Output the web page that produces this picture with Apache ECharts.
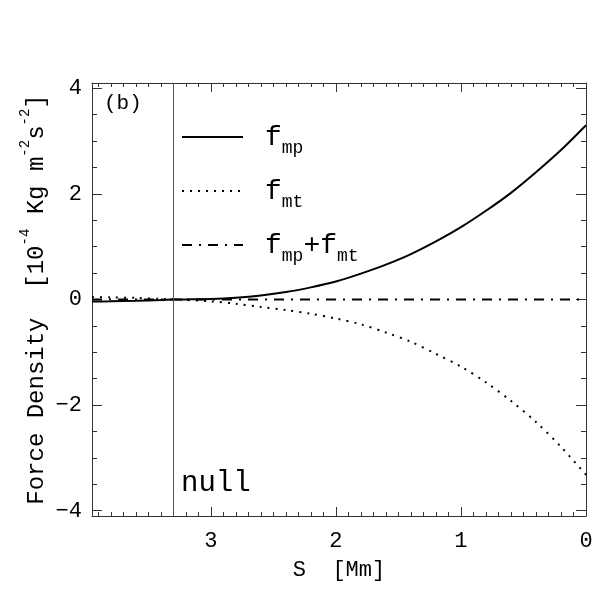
<!DOCTYPE html>
<html>
<head>
<meta charset="utf-8">
<script src="https://cdn.jsdelivr.net/npm/echarts@6/dist/echarts.min.js"></script>
<style>
  html, body { margin: 0; padding: 0; background: #fff; }
  #chart { width: 600px; height: 600px; }
</style>
</head>
<body>
<div id="chart"></div>
<script>
var sPos = [3.95, 3.8, 3.6, 3.4, 3.3, 3.2, 3.0, 2.8, 2.6, 2.4, 2.2, 2.0, 1.8, 1.6, 1.4, 1.2, 1.0, 0.8, 0.6, 0.4, 0.2, 0.0];
// force densities [1e-4 Kg m^-2 s^-2]
var fMp  = [-0.04, -0.035, -0.025, -0.01, 0.0, 0.002, 0.01, 0.034, 0.076, 0.14, 0.23, 0.34, 0.49, 0.66, 0.86, 1.10, 1.37, 1.68, 2.02, 2.41, 2.83, 3.30];
var fMt  = [0.045, 0.04, 0.03, 0.01, 0.0, -0.01, -0.035, -0.08, -0.14, -0.20, -0.27, -0.36, -0.47, -0.625, -0.80, -1.03, -1.27, -1.57, -1.92, -2.32, -2.79, -3.32];
var fSum = [0.0, 0.0, 0.0, 0.0, 0.0, 0.0, 0.0, 0.0, 0.0, 0.0, 0.0, 0.0, 0.0, 0.0, 0.0, 0.0, 0.0, 0.0, 0.0, 0.0, 0.0, 0.0];
var nullPos = 3.3;

var xMajor = [0, 1, 2, 3];
var yMajor = [-4, -2, 0, 2, 4];
var xRange = [0, 3.95];
var yRange = [-4.1, 4.1];

// minor ticks: 0.1 on x, 0.5 on y
var xMinor = [], yMinor = [];
for (var i = 1; i < 40; i++) if (i % 10) xMinor.push(+(i * 0.1).toFixed(1));
for (var j = -8; j <= 8; j++) if (j % 4) yMinor.push(j * 0.5);

var FONT = 'Liberation Mono';
var AXC = '#333';

function pairs(ys) {
  return sPos.map(function (s, k) { return [s, ys[k]]; });
}

function xAx(pos, ticks, len, major) {
  return {
    type: 'value', position: pos, min: xRange[0], max: xRange[1], inverse: true,
    axisLine: { show: major, onZero: false, lineStyle: { color: AXC, width: 1 } },
    axisTick: { inside: true, length: len, customValues: ticks, lineStyle: { color: AXC } },
    axisLabel: { show: false },
    splitLine: { show: false }
  };
}
function yAx(pos, ticks, len, major) {
  return {
    type: 'value', position: pos, min: yRange[0], max: yRange[1],
    axisLine: { show: major, onZero: false, lineStyle: { color: AXC, width: 1 } },
    axisTick: { inside: true, length: len, customValues: ticks, lineStyle: { color: AXC } },
    axisLabel: { show: false },
    splitLine: { show: false }
  };
}

var xb = xAx('bottom', xMajor, 9, true);
xb.axisLabel = { show: true, customValues: xMajor, margin: 14, fontFamily: FONT, fontSize: 22, color: '#000' };
xb.name = 'S  [Mm]';
xb.nameLocation = 'middle';
xb.nameGap = 43;
xb.nameMoveOverlap = false;
xb.nameTextStyle = { fontFamily: FONT, fontSize: 22, color: '#000' };

var yl = yAx('left', yMajor, 10, true);
yl.axisLabel = {
  show: true, customValues: yMajor, margin: 10, fontFamily: FONT, fontSize: 22, color: '#000',
  formatter: function (v) { return String(v).replace('-', '\u2212'); }
};
yl.name = '{a|Force Density  [10}{s|-4}{a| Kg m}{s|-2}{a|s}{s|-2}{a|]}';
yl.nameLocation = 'middle';
yl.nameRotate = 90;
yl.nameGap = 43;
yl.nameMoveOverlap = false;
yl.nameTextStyle = {
  fontFamily: FONT, fontSize: 24, color: '#000',
  rich: {
    a: { fontFamily: FONT, fontSize: 24, lineHeight: 24, color: '#000' },
    s: { fontFamily: FONT, fontSize: 14, lineHeight: 14, color: '#000', padding: [0, 0, 24, 0] }
  }
};

var legendRich = {
  f: { fontFamily: FONT, fontSize: 28, lineHeight: 28, fill: '#000' },
  s: { fontFamily: FONT, fontSize: 18, lineHeight: 18, fill: '#000', padding: [20, 0, 0, 0] }
};

function legLine(y, dash) {
  return {
    type: 'line', shape: { x1: 182, y1: y, x2: 243, y2: y },
    style: { stroke: '#000', lineWidth: 2, lineDash: dash }
  };
}
function legText(y, txt) {
  return {
    type: 'text', x: 265, y: y,
    style: { text: txt, rich: legendRich, verticalAlign: 'middle', align: 'left', fill: '#000' }
  };
}

var chart = echarts.init(document.getElementById('chart'));
chart.setOption({
  animation: false,
  backgroundColor: '#fff',
  grid: { left: 92, right: 14, top: 83, bottom: 84, outerBoundsMode: 'none' },
  xAxis: [xb, xAx('bottom', xMinor, 4, false), xAx('top', xMajor, 9, true), xAx('top', xMinor, 4, false)],
  yAxis: [yl, yAx('left', yMinor, 5, false), yAx('right', yMajor, 10, true), yAx('right', yMinor, 5, false)],
  series: [
    {
      name: 'fmp', type: 'line', data: pairs(fMp), smooth: 0.3, showSymbol: false,
      xAxisIndex: 0, yAxisIndex: 0,
      lineStyle: { color: '#000', width: 2 },
      markLine: {
        silent: true, symbol: 'none', label: { show: false },
        lineStyle: { color: '#555', width: 1, type: 'solid' },
        data: [{ xAxis: nullPos }]
      }
    },
    {
      name: 'fmt', type: 'line', data: pairs(fMt), smooth: 0.3, showSymbol: false,
      xAxisIndex: 0, yAxisIndex: 0,
      lineStyle: { color: '#000', width: 2, type: [2, 6] }
    },
    {
      name: 'sum', type: 'line', data: pairs(fSum), showSymbol: false,
      xAxisIndex: 0, yAxisIndex: 0,
      lineStyle: { color: '#000', width: 2, type: [10, 7, 2, 7] }
    }
  ],
  graphic: [
    { type: 'text', x: 104, y: 103, style: { text: '(b)', fontFamily: FONT, fontSize: 21, fill: '#000', verticalAlign: 'middle' } },
    legLine(137, null), legText(138, '{f|f}{s|mp}'),
    legLine(191, [2, 6]), legText(192, '{f|f}{s|mt}'),
    legLine(245, [10, 7, 2, 7]), legText(246, '{f|f}{s|mp}{f|+f}{s|mt}'),
    { type: 'text', x: 181, y: 483, style: { text: 'null', fontFamily: FONT, fontSize: 29, fill: '#000', verticalAlign: 'middle' } }
  ]
});
</script>
</body>
</html>
